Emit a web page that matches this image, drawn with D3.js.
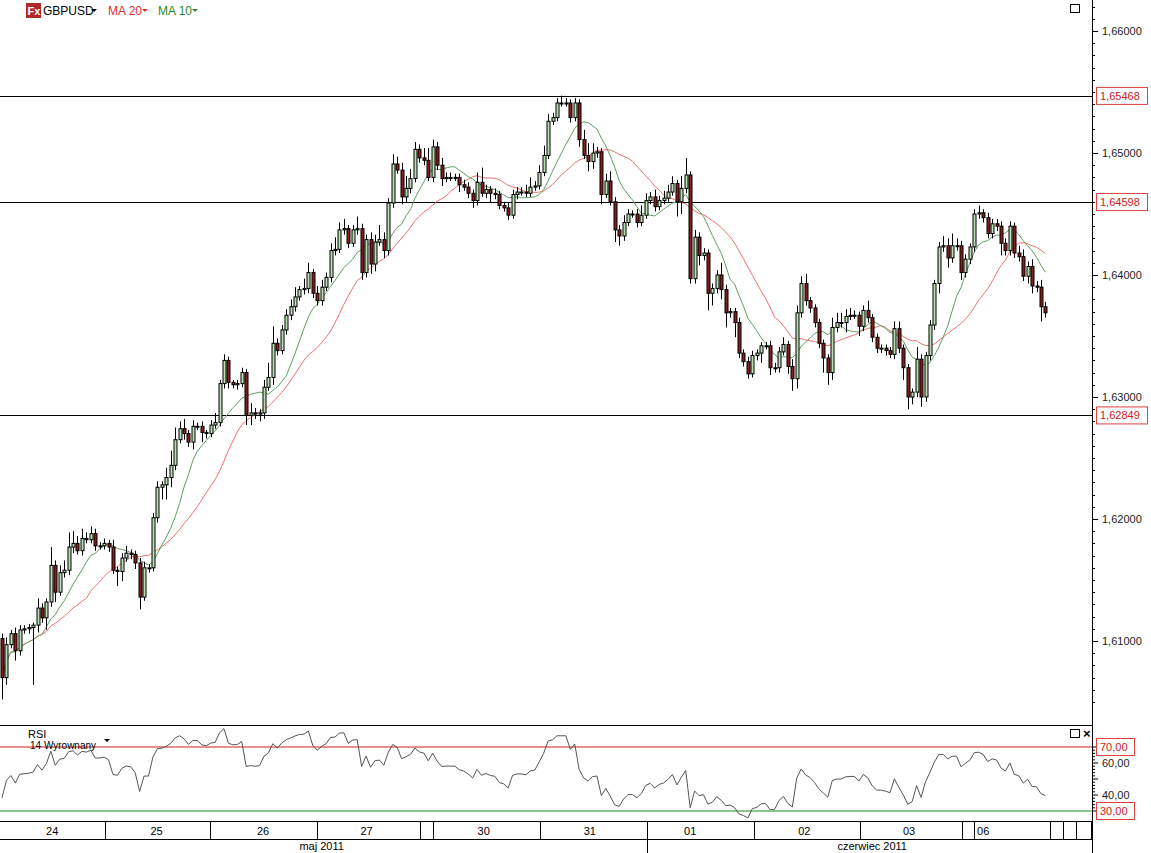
<!DOCTYPE html>
<html><head><meta charset="utf-8">
<script src="https://cdn.jsdelivr.net/npm/d3@7"></script>
<style>body{margin:0;background:#fff}svg{display:block;font-family:"Liberation Sans",Arial,sans-serif}</style>
</head><body>
<svg id="c" width="1151" height="853"></svg>
<script>
// ---- data ----
const firstOpen = 1.6102;
const closes = [
1.6070,1.6097,1.6106,1.6092,1.6109,1.6110,1.6111,1.6113,1.6127,1.6119,1.6132,1.6162,1.6140,1.6156,1.6158,1.6177,1.6180,1.6174,1.6184,1.6183,
1.6188,1.6178,1.6178,1.6180,1.6177,1.6158,1.6157,1.6168,1.6172,1.6171,1.6164,1.6136,1.6160,1.6160,1.6201,1.6226,1.6228,1.6234,1.6244,1.6265,
1.6274,1.6270,1.6263,1.6276,1.6276,1.6271,1.6270,1.6277,1.6279,1.6311,1.6330,1.6312,1.6310,1.6311,1.6320,1.6285,1.6287,1.6286,1.6287,1.6308,
1.6316,1.6344,1.6338,
1.6355,1.6367,1.6374,1.6382,1.6388,1.6389,1.6402,1.6385,1.6379,1.6390,1.6398,1.6420,1.6421,1.6437,1.6438,1.6426,1.6437,1.6438,1.6402,1.6429,
1.6409,1.6427,1.6429,1.6420,1.6459,1.6491,1.6486,1.6464,1.6471,1.6479,1.6503,1.6496,1.6494,1.6480,1.6505,1.6490,1.6479,1.6480,1.6480,1.6480,
1.6474,1.6472,1.6467,1.6461,1.6476,1.6467,1.6470,1.6467,1.6466,1.6457,1.6455,1.6449,1.6466,1.6468,1.6468,1.6467,1.6472,1.6473,1.6484,1.6498,
1.6526,
1.6529,1.6541,1.6541,1.6541,1.6529,1.6541,1.6511,1.6498,1.6493,1.6500,1.6501,1.6466,1.6477,1.6460,1.6437,1.6432,1.6443,1.6450,1.6450,1.6443,
1.6449,1.6461,1.6464,1.6456,1.6461,1.6463,1.6468,1.6475,1.6460,1.6471,1.6482,1.6397,1.6431,1.6416,1.6418,1.6385,1.6389,1.6400,1.6388,1.6369,
1.6370,1.6361,1.6336,1.6329,1.6319,1.6334,1.6336,1.6342,1.6342,1.6324,1.6324,1.6337,1.6343,1.6325,1.6315,
1.6369,1.6393,1.6379,1.6373,1.6361,1.6344,1.6332,1.6320,1.6357,1.6361,1.6361,1.6366,1.6367,1.6367,1.6358,1.6371,1.6365,1.6349,1.6340,1.6340,
1.6338,1.6335,1.6356,1.6340,1.6324,1.6300,1.6304,1.6331,1.6300,1.6334,1.6359,1.6393,1.6423,1.6424,1.6414,1.6424,1.6424,1.6402,1.6413,1.6423,
1.6450,1.6451,1.6447,1.6434,1.6442,1.6440,1.6426,1.6420,1.6440,1.6418,1.6415,1.6399,1.6407,1.6391,1.6390,1.6374,1.6369];
// wick extension beyond the body, in pips
const wickHigh = [
4,6,3,5,4,3,3,2,8,4,3,15,4,6,8,12,10,6,8,5,6,4,3,4,3,6,3,4,6,3,3,4,5,3,4,5,3,8,12,10,6,8,3,5,3,4,2,4,8,3,5,3,2,3,4,3,8,4,3,6,12,14,4,
4,5,6,8,3,8,8,3,6,6,4,6,10,6,8,3,4,10,4,4,6,6,12,6,4,8,6,6,10,8,6,4,8,10,6,4,6,4,4,3,3,4,4,3,8,12,4,3,4,3,3,4,4,4,4,6,8,4,6,8,6,
4,4,6,4,3,4,3,8,10,8,4,3,6,8,4,4,6,4,3,4,8,6,4,6,4,6,6,6,3,10,14,3,6,4,4,3,4,4,10,4,3,3,4,3,4,4,3,3,3,4,4,4,6,3,6,
6,6,8,3,3,3,3,3,8,8,8,6,6,4,3,4,8,3,3,3,3,3,6,6,3,3,3,10,4,3,4,3,4,8,6,10,6,4,4,3,4,6,3,4,4,4,4,4,4,3,6,6,4,6,4,6,4];
const wickLow = [
18,6,3,8,4,3,4,47,6,4,10,4,8,3,4,4,5,3,4,3,3,4,3,3,4,3,12,8,3,4,5,10,3,4,3,4,10,12,8,4,3,5,4,6,3,8,4,3,3,3,4,5,3,4,3,8,8,4,6,5,3,6,4,
3,4,4,4,3,4,4,4,4,4,3,4,4,3,4,4,3,4,6,4,8,6,3,6,4,4,3,6,4,4,3,4,4,3,4,4,6,3,3,3,6,3,4,6,4,3,4,8,4,3,3,4,3,4,3,3,3,3,3,3,3,
3,3,3,3,4,3,6,3,8,6,4,8,3,3,10,8,4,3,3,4,3,3,3,4,3,3,3,3,12,10,4,4,4,8,4,14,10,4,8,12,4,12,4,4,4,3,4,8,3,6,4,4,3,6,10,
8,4,4,4,4,4,12,10,6,4,4,8,3,3,8,4,4,4,4,4,4,3,4,4,10,10,6,4,8,4,4,4,8,4,8,4,4,6,4,4,4,4,4,4,4,4,10,4,4,4,4,4,6,6,4,12,4];
const rsiSeedMove = 0.0008; // assumed average hourly move before the visible window
const priceTicks = [1.61,1.62,1.63,1.64,1.65,1.66];
const levels = [1.65468,1.64598,1.62849];
const rsiTicks = [40,60];
const rsiLevels = [70,30];
const dayBounds = [23.2,46.8,70.9,94.1,97,121.2,145.3,169.4,193.2,216.2,218.9,236,239,242,245.2];
const dayLabels = [["24",11.3],["25",34.8],["26",58.8],["27",82.1],["30",108.5],["31",132.4],["01",155],["02",180.7],["03",204.3],["06",221]];
const monthLabels = [["maj 2011",72],["czerwiec 2011",196]];
const monthBound = 145.3;

// ---- derived ----
const N = closes.length;
const candles = closes.map((c,i)=>{
  const o = i===0?firstOpen:closes[i-1];
  return {i,o,c,h:Math.max(o,c)+wickHigh[i]/10000,l:Math.min(o,c)-wickLow[i]/10000};
});
function ma(n){return closes.map((_,i)=>{const s=closes.slice(Math.max(0,i-n+1),i+1);return d3.mean(s);});}
const ma20=ma(20), ma10=ma(10);
const rsi=[];{let ag=rsiSeedMove/2,al=rsiSeedMove/2;for(let i=0;i<N;i++){const prev=i===0?firstOpen:closes[i-1];const d=closes[i]-prev;const g=Math.max(d,0),l=Math.max(-d,0);
 ag=(ag*13+g)/14;al=(al*13+l)/14;rsi.push({i,v:100-100/(1+ag/al)});}}

// ---- drawing ----
const svg=d3.select("#c");
const AX=1092;
const x=d3.scaleLinear().domain([0,245.5]).range([2,AX]);
const y=d3.scaleLinear().domain([1.60,1.66]).range([763,31]);
const yR=d3.scaleLinear().domain([30,70]).range([811,747]);
const fmt=v=>d3.format(".5f")(v).replace(".",",");

svg.append("clipPath").attr("id","mc").append("rect").attr("x",0).attr("y",0).attr("width",AX).attr("height",725);
svg.append("clipPath").attr("id","rc").append("rect").attr("x",0).attr("y",727).attr("width",AX).attr("height",94);
const main=svg.append("g").attr("clip-path","url(#mc)");

levels.forEach(v=>main.append("line").attr("x1",0).attr("x2",AX).attr("y1",Math.round(y(v))+.5).attr("y2",Math.round(y(v))+.5).attr("stroke","#000"));

main.append("path").datum(ma20).attr("fill","none").attr("stroke","#f07070").attr("stroke-width",1)
 .attr("d",d3.line().x((d,i)=>x(i)).y(d=>y(d)));
main.append("path").datum(ma10).attr("fill","none").attr("stroke","#5f9f60").attr("stroke-width",1)
 .attr("d",d3.line().x((d,i)=>x(i)).y(d=>y(d)));

const cg=main.selectAll("g.cd").data(candles).join("g");
cg.append("line").attr("x1",d=>Math.round(x(d.i))+.5).attr("x2",d=>Math.round(x(d.i))+.5)
 .attr("y1",d=>y(d.h)).attr("y2",d=>y(d.l)).attr("stroke","#000");
cg.append("rect").attr("x",d=>Math.round(x(d.i))-1).attr("width",3)
 .attr("y",d=>y(Math.max(d.o,d.c))).attr("height",d=>Math.max(1,Math.abs(y(d.o)-y(d.c))))
 .attr("fill",d=>d.c>=d.o?"#b9dfb2":"#8b1c1c").attr("stroke","#000").attr("stroke-width",1);

// price axis
const ax=svg.append("g").attr("transform",`translate(${AX},0)`);
ax.append("line").attr("x1",.5).attr("x2",.5).attr("y1",0).attr("y2",853).attr("stroke","#000");
d3.range(1.605,1.6651,0.001).forEach(v=>{const yy=Math.round(y(v))+.5;if(yy<722)ax.append("line").attr("x1",0).attr("x2",Math.abs(Math.round(v*100)-v*100)<1e-6?6:3).attr("y1",yy).attr("y2",yy).attr("stroke","#000");});
ax.selectAll("text.p").data(priceTicks).join("text").attr("x",10).attr("y",d=>y(d)+4).attr("font-size",11).attr("fill","#222").text(fmt);
levels.forEach(v=>{const yy=y(v);
 ax.append("rect").attr("x",4.5).attr("y",yy-8.5).attr("width",51).attr("height",17).attr("fill","#fff").attr("stroke","#e04040");
 ax.append("text").attr("x",8).attr("y",yy+4).attr("font-size",11).attr("fill","#d02020").text(fmt(v));});

svg.append("line").attr("x1",0).attr("x2",AX).attr("y1",725.5).attr("y2",725.5).attr("stroke","#000");

// RSI panel
const rg=svg.append("g").attr("clip-path","url(#rc)");
rg.append("line").attr("x1",0).attr("x2",AX).attr("y1",yR(70)).attr("y2",yR(70)).attr("stroke","#d02020");
rg.append("line").attr("x1",0).attr("x2",AX).attr("y1",yR(30)).attr("y2",yR(30)).attr("stroke","#1a8a1a");
rg.append("path").datum(rsi).attr("fill","none").attr("stroke","#555").attr("stroke-width",1)
 .attr("d",d3.line().x(d=>x(d.i)).y(d=>yR(d.v)));
d3.range(30,71,2).forEach(v=>ax.append("line").attr("x1",0).attr("x2",v%10===0?6:3).attr("y1",yR(v)).attr("y2",yR(v)).attr("stroke","#000"));
ax.selectAll("text.r").data(rsiTicks).join("text").attr("x",10).attr("y",d=>yR(d)+4).attr("font-size",11).attr("fill","#222").text(d=>d+",00");
rsiLevels.forEach(v=>{const yy=yR(v);
 ax.append("rect").attr("x",4.5).attr("y",yy-8.5).attr("width",38).attr("height",17).attr("fill","#fff").attr("stroke","#e04040");
 ax.append("text").attr("x",8).attr("y",yy+4).attr("font-size",11).attr("fill","#d02020").text(v+",00");});
svg.append("text").attr("x",28).attr("y",738).attr("font-size",11).text("RSI");
svg.append("text").attr("x",30).attr("y",749).attr("font-size",10).text("14 Wyrownany");
svg.append("path").attr("d","M104,739 l6,0 l-3,3 z").attr("fill","#000");

// time axis
svg.append("line").attr("x1",0).attr("x2",AX).attr("y1",821.5).attr("y2",821.5).attr("stroke","#000");
svg.append("line").attr("x1",0).attr("x2",AX).attr("y1",839.5).attr("y2",839.5).attr("stroke","#000");
dayBounds.forEach(b=>svg.append("line").attr("x1",Math.round(x(b))+.5).attr("x2",Math.round(x(b))+.5).attr("y1",822).attr("y2",839).attr("stroke","#000"));
svg.append("line").attr("x1",Math.round(x(monthBound))+.5).attr("x2",Math.round(x(monthBound))+.5).attr("y1",822).attr("y2",853).attr("stroke","#000");
dayLabels.forEach(([t,c])=>svg.append("text").attr("x",x(c)).attr("y",835).attr("font-size",11).attr("text-anchor","middle").text(t));
monthLabels.forEach(([t,c])=>svg.append("text").attr("x",x(c)).attr("y",850).attr("font-size",11).attr("text-anchor","middle").text(t));

// legend
svg.append("rect").attr("x",26).attr("y",3).attr("width",15).attr("height",15).attr("fill","#b02828");
svg.append("text").attr("x",27.5).attr("y",15).attr("font-size",11).attr("font-weight","bold").attr("fill","#fff").text("Fx");
svg.append("text").attr("x",43).attr("y",15).attr("font-size",12).text("GBPUSD");
svg.append("path").attr("d","M91,9 l6,0 l-3,3 z").attr("fill","#000");
svg.append("text").attr("x",108).attr("y",15).attr("font-size",12).attr("fill","#e03030").text("MA 20");
svg.append("path").attr("d","M142,9 l6,0 l-3,3 z").attr("fill","#e03030");
svg.append("text").attr("x",158).attr("y",15).attr("font-size",12).attr("fill","#2a8a2a").text("MA 10");
svg.append("path").attr("d","M192,9 l6,0 l-3,3 z").attr("fill","#2a8a2a");

// window icons
svg.append("rect").attr("x",1070.5).attr("y",4.5).attr("width",9).attr("height",8).attr("fill","none").attr("stroke","#000");
svg.append("rect").attr("x",1070.5).attr("y",729.5).attr("width",9).attr("height",8).attr("fill","none").attr("stroke","#000");
svg.append("text").attr("x",1083).attr("y",738).attr("font-size",13).attr("font-weight","bold").text("×");
</script>
</body></html>
